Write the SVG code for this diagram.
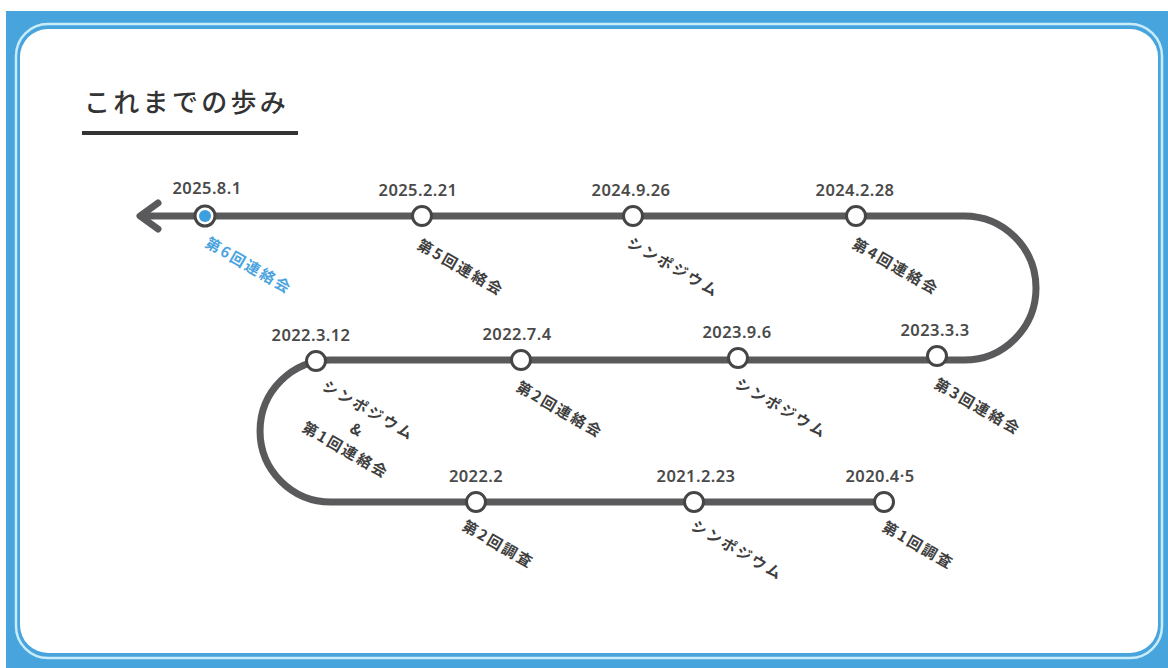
<svg xmlns="http://www.w3.org/2000/svg" width="1168" height="668" viewBox="0 0 1168 668">
<defs>
<style>
.date{font-family:"Noto Sans","Noto Sans CJK JP",sans-serif;font-size:16.5px;font-weight:600;fill:#4a4a4a;text-anchor:middle;letter-spacing:0.4px}
.lbl{font-family:"Noto Sans CJK JP","Noto Sans",sans-serif;font-size:15px;font-weight:700;fill:#3e3e3e;letter-spacing:2.2px}
.lbl.blue{fill:#4aa3df}
.node{fill:#ffffff;stroke:#454545;stroke-width:3}
.track{fill:none;stroke:#5a5a5c;stroke-width:7;stroke-linecap:round;stroke-linejoin:round}
</style>
</defs>
<rect x="0" y="0" width="1168" height="668" fill="#ffffff"/>
<rect x="6" y="11" width="1162" height="657" fill="#47a4dc"/>
<rect x="16" y="24" width="1146" height="634" rx="32" fill="none" stroke="#c9ecfa" stroke-width="2.5"/>
<rect x="20" y="29" width="1138" height="624" rx="28" fill="#ffffff"/>
<g id="title">
<text x="84" y="112" font-family="'Noto Sans CJK JP',sans-serif" font-size="26" font-weight="500" fill="#333333" letter-spacing="3.3">これまでの歩み</text>
<rect x="82" y="131" width="216" height="4" fill="#333333"/>
</g>
<g id="connectors">
<path class="track" d="M142 216 L964 216 A72 72 0 0 1 964 360 L331 360 A71 71 0 0 0 331 502 L884 502"/>
<path class="track" d="M158 203 L140 216 L158 229"/>
</g>
<g id="n1"><circle class="node" cx="884" cy="502" r="9.5"/><text class="date" x="880" y="482">2020.4·5</text><text class="lbl" transform="translate(881,530) rotate(30)">第1回調査</text></g>
<g id="n2"><circle class="node" cx="694" cy="502" r="9.5"/><text class="date" x="696" y="482">2021.2.23</text><text class="lbl" transform="translate(690,529) rotate(30)">シンポジウム</text></g>
<g id="n3"><circle class="node" cx="476" cy="502" r="9.5"/><text class="date" x="476" y="482">2022.2</text><text class="lbl" transform="translate(461,529) rotate(30)">第2回調査</text></g>
<g id="n4"><circle class="node" cx="316" cy="361" r="9.5"/><text class="date" x="311" y="341">2022.3.12</text>
<g transform="translate(366,415) rotate(30)"><text class="lbl" x="0" y="0" text-anchor="middle">シンポジウム</text><text class="lbl" x="0" y="23" text-anchor="middle">&amp;</text><text class="lbl" x="0" y="46" text-anchor="middle">第1回連絡会</text></g></g>
<g id="n5"><circle class="node" cx="521" cy="360" r="9.5"/><text class="date" x="517" y="340">2022.7.4</text><text class="lbl" transform="translate(515,390) rotate(30)">第2回連絡会</text></g>
<g id="n6"><circle class="node" cx="738" cy="358" r="9.5"/><text class="date" x="737" y="338">2023.9.6</text><text class="lbl" transform="translate(734,387) rotate(30)">シンポジウム</text></g>
<g id="n7"><circle class="node" cx="937" cy="356" r="9.5"/><text class="date" x="935" y="336">2023.3.3</text><text class="lbl" transform="translate(933,387) rotate(30)">第3回連絡会</text></g>
<g id="n8"><circle class="node" cx="856" cy="216" r="9.5"/><text class="date" x="855" y="196">2024.2.28</text><text class="lbl" transform="translate(851,247) rotate(30)">第4回連絡会</text></g>
<g id="n9"><circle class="node" cx="633" cy="216" r="9.5"/><text class="date" x="631" y="196">2024.9.26</text><text class="lbl" transform="translate(626,246) rotate(30)">シンポジウム</text></g>
<g id="n10"><circle class="node" cx="422" cy="216" r="9.5"/><text class="date" x="418" y="196">2025.2.21</text><text class="lbl" transform="translate(416,248) rotate(30)">第5回連絡会</text></g>
<g id="n11"><circle class="node" cx="205" cy="216" r="10"/><circle cx="205" cy="216" r="6" fill="#3d9ee0"/><text class="date" x="207" y="194">2025.8.1</text><text class="lbl blue" transform="translate(204,246) rotate(30)">第6回連絡会</text></g>
</svg>
